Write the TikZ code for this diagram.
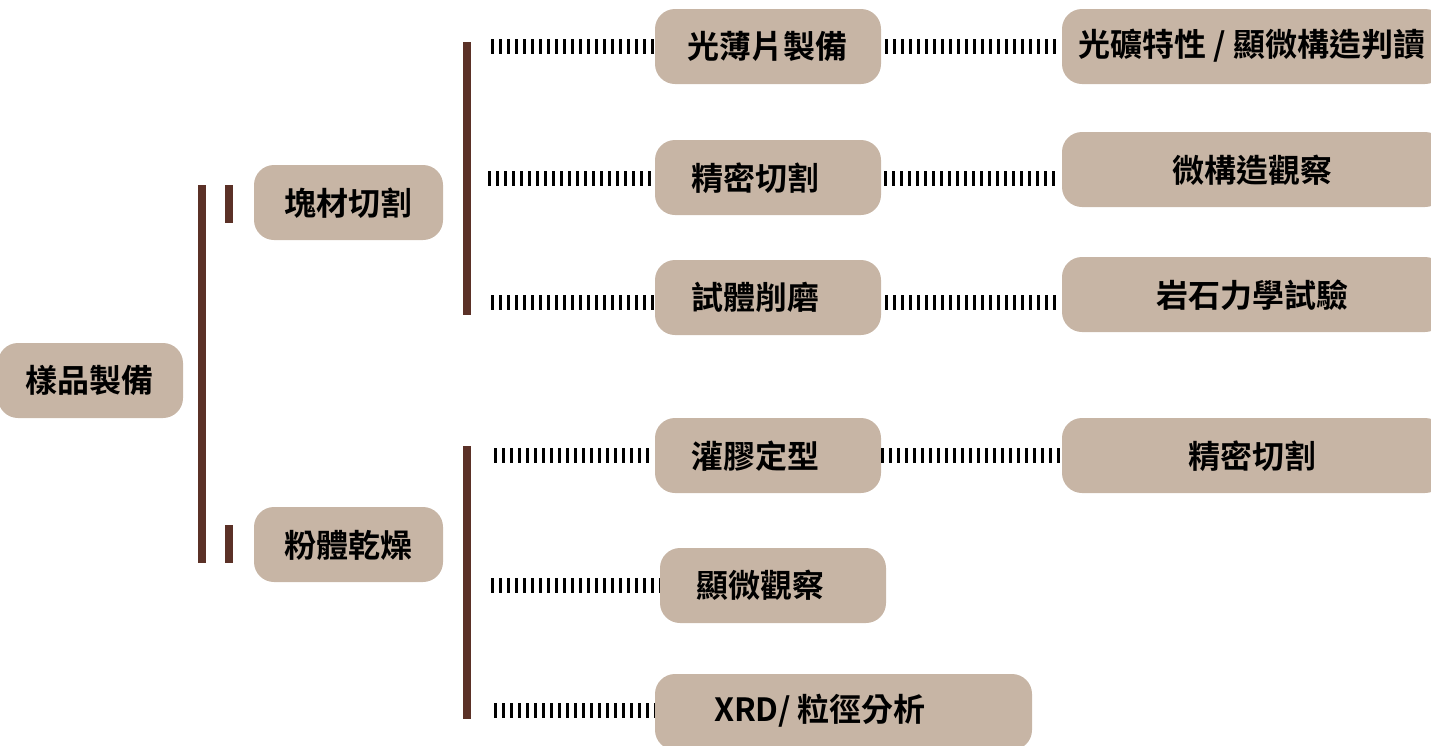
\documentclass[tikz,border=0pt]{standalone}
\usepackage{fontspec}
\setmainfont{Noto Sans CJK TC}[BoldFont={Noto Sans CJK TC Bold}]
\definecolor{boxfill}{HTML}{C7B5A5}
\definecolor{barbrown}{HTML}{5B3127}
\begin{document}
\begin{tikzpicture}[x=1pt,y=-1pt,
  box/.style={draw=none,fill=boxfill,rounded corners=20pt,inner sep=0pt,minimum height=75pt},
  lbl/.style={font=\fontsize{32}{35}\selectfont\bfseries,inner sep=0pt,text=black},
  bar/.style={draw=barbrown,line width=8pt},
  dl/.style={draw=black,line width=15pt,dash pattern=on 3pt off 5pt}]
\useasboundingbox (0,0) rectangle (1431,745);
\clip (0,0) rectangle (1431,745);
% boxes
\node[box,minimum width=185pt] (root) at (90.5,380.5) {};
\node[box,minimum width=189pt] (b1) at (348.5,202.5) {};
\node[box,minimum width=189pt] (b2) at (348.5,544.5) {};
\node[box,minimum width=226pt] (c1) at (768,46.5) {};
\node[box,minimum width=226pt] (c2) at (768,177.5) {};
\node[box,minimum width=226pt] (c3) at (768,297.5) {};
\node[box,minimum width=226pt] (c4) at (768,455.5) {};
\node[box,minimum width=226pt] (c5) at (773,585.5) {};
\node[box,minimum width=377pt,minimum height=76pt] (c6) at (843.5,712) {};
\node[box,minimum width=383pt] (d1) at (1253.5,46.5) {};
\node[box,minimum width=383pt] (d2) at (1253.5,169.5) {};
\node[box,minimum width=383pt] (d3) at (1253.5,294.5) {};
\node[box,minimum width=383pt] (d4) at (1253.5,455.5) {};
% labels
\node[lbl] (troot) at (89,380) {樣品製備};
\node[lbl] (tb1) at (348,203) {塊材切割};
\node[lbl] (tb2) at (348,545) {粉體乾燥};
\node[lbl] (tc1) at (767,46) {光薄片製備};
\node[lbl] (tc2) at (755,178) {精密切割};
\node[lbl] (tc3) at (755,297) {試體削磨};
\node[lbl] (tc4) at (755,456) {灌膠定型};
\node[lbl] (tc5) at (760,585) {顯微觀察};
\node[lbl] (tc6) at (820,711) {XRD/ 粒徑分析};
\node[lbl] (td1) at (1252,46) {光礦特性 / 顯微構造判讀};
\node[lbl] (td2) at (1252,170) {微構造觀察};
\node[lbl] (td3) at (1252,295) {岩石力學試驗};
\node[lbl] (td4) at (1252,456) {精密切割};
% brown bars
\coordinate (m1) at (201.5,185);
\coordinate (m2) at (201.5,563);
\draw[bar] (m1) -- (m2);
\coordinate (k1a) at (229,185);
\coordinate (k1b) at (229,222.5);
\draw[bar] (k1a) -- (k1b);
\coordinate (k2a) at (229,525);
\coordinate (k2b) at (229,563);
\draw[bar] (k2a) -- (k2b);
\coordinate (r1a) at (467,42);
\coordinate (r1b) at (467,315);
\draw[bar] (r1a) -- (r1b);
\coordinate (r2a) at (467,446);
\coordinate (r2b) at (467,719);
\draw[bar] (r2a) -- (r2b);
% left dashed connectors
\coordinate (s1) at (491,46.5);
\coordinate (s2) at (488,178);
\coordinate (s3) at (491,302);
\coordinate (s4) at (494,455);
\coordinate (s5) at (491,585);
\coordinate (s6) at (494,710);
\draw[dl] (s1) -- (s1 -| c1.west);
\draw[dl] (s2) -- (s2 -| c2.west);
\draw[dl] (s3) -- (s3 -| c3.west);
\draw[dl] (s4) -- ([xshift=-3pt]s4 -| c4.west);
\draw[dl] (s5) -- (s5 -| c5.west);
\draw[dl] (s6) -- (s6 -| c6.west);
% right dashed connectors
\coordinate (e1) at (885,46.5);
\coordinate (e2) at (884,178);
\coordinate (e3) at (885,302);
\coordinate (e4) at (881,455);
\draw[dl] (e1) -- ([xshift=-4pt]e1 -| d1.west);
\draw[dl] (e2) -- ([xshift=-4pt]e2 -| d2.west);
\draw[dl] (e3) -- ([xshift=-4pt]e3 -| d3.west);
\draw[dl] (e4) -- (e4 -| d4.west);
\end{tikzpicture}
\end{document}
